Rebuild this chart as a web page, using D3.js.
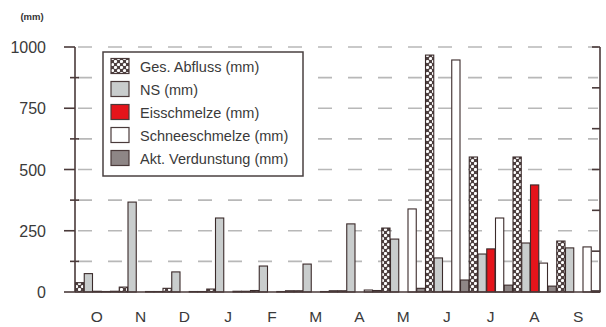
<!DOCTYPE html>
<html><head><meta charset="utf-8">
<script src="https://cdn.jsdelivr.net/npm/d3@7"></script>
<style>body{margin:0;background:#fff}svg{display:block;font-family:"Liberation Sans",Arial,sans-serif}</style>
</head><body><svg id="c" width="606" height="327"></svg>
<script>
const months = ["O","N","D","J","F","M","A","M","J","J","A","S"];
const seriesNames = ["Ges. Abfluss (mm)","NS (mm)","Eisschmelze (mm)","Schneeschmelze (mm)","Akt. Verdunstung (mm)"];
const abfluss = [38, 20, 15, 12, 6, 5, 5, 261, 967, 551, 551, 208];
const ns = [75, 367, 82, 302, 106, 114, 278, 216, 139, 155, 200, 180];
const eis = [3, 0, 0, 0, 0, 0, 0, 0, 3, 176, 437, 0];
const schnee = [2, 2, 2, 3, 2, 2, 8, 339, 947, 302, 118, 184];
const verdunstung = [3, 2, 2, 3, 5, 5, 6, 15, 49, 28, 24, 5];
const yTicks = [0, 250, 500, 750, 1000];
const yMinor = [125, 375, 625, 875];
const gridVals = [125, 250, 375, 500, 625, 750, 875, 1000];

const svg = d3.select("#c");
const x0 = 75, x1 = 600, yTop = 47, yBot = 292;
const axisCol = "#4a3a3a";
const fills = ["url(#chk)", "#c9cdcd", "#e5141b", "#ffffff", "#8e8686"];
const data = [abfluss, ns, eis, schnee, verdunstung];

const defs = svg.append("defs");
const pat = defs.append("pattern").attr("id","chk").attr("patternUnits","userSpaceOnUse")
  .attr("width",6).attr("height",6);
pat.append("rect").attr("width",6).attr("height",6).attr("fill","#4e4040");
pat.append("circle").attr("cx",1.5).attr("cy",1.5).attr("r",1.6).attr("fill","#fff");
pat.append("circle").attr("cx",4.5).attr("cy",4.5).attr("r",1.6).attr("fill","#fff");

const x = d3.scaleBand().domain(d3.range(months.length)).range([x0, x1]).padding(0);
const xs = d3.scaleBand().domain(d3.range(seriesNames.length)).range([0, x.bandwidth()]).padding(0);
const y = d3.scaleLinear().domain([0, 1000]).range([yBot, yTop]);

// grid
svg.append("g").selectAll("line").data(gridVals).join("line")
  .attr("x1", x0 + 3).attr("x2", x1 - 2).attr("y1", d => y(d)).attr("y2", d => y(d))
  .attr("stroke", "#b8b8b8").attr("stroke-width", 1.6).attr("stroke-dasharray", "14,16");

// bars
const g = svg.append("g");
data.forEach((vals, si) => {
  g.selectAll(null).data(vals).join("rect")
    .attr("x", (d, i) => x(i) + xs(si) + 0.5)
    .attr("width", xs.bandwidth() - 0.5)
    .attr("y", d => y(d))
    .attr("height", d => Math.max(0, yBot - y(d)))
    .attr("fill", fills[si])
    .attr("stroke", d => d > 0 ? "#3b2b2b" : "none").attr("stroke-width", 1.1);
});

// left axis
const la = svg.append("g").attr("stroke", axisCol).attr("stroke-width", 1.6);
la.append("line").attr("x1", x0).attr("x2", x0).attr("y1", yTop).attr("y2", yBot);
la.selectAll(".mj").data(yTicks).join("line").attr("x1", x0 - 11).attr("x2", x0)
  .attr("y1", d => y(d)).attr("y2", d => y(d));
la.selectAll(".mn").data(yMinor).join("line").attr("x1", x0 - 5).attr("x2", x0 + 4)
  .attr("y1", d => y(d)).attr("y2", d => y(d));
svg.append("g").selectAll("text").data(yTicks).join("text")
  .attr("x", 46).attr("y", d => y(d) + 6).attr("text-anchor", "end")
  .attr("font-size", 16).attr("fill", "#3a3a3a").text(d => d);

// right axis
const rTicks = d3.range(0, 7);
const ry = d3.scaleLinear().domain([0, 6]).range([yBot, yTop]);
const ra = svg.append("g").attr("stroke", axisCol).attr("stroke-width", 1.6);
ra.append("line").attr("x1", x1).attr("x2", x1).attr("y1", yTop).attr("y2", yBot);
ra.selectAll("line.t").data(rTicks).join("line").attr("x1", x1 - 8).attr("x2", x1)
  .attr("y1", d => ry(d)).attr("y2", d => ry(d));

// x axis
svg.append("line").attr("x1", x0).attr("x2", x1).attr("y1", yBot).attr("y2", yBot)
  .attr("stroke", axisCol).attr("stroke-width", 1.6);
svg.append("g").selectAll("text").data(months).join("text")
  .attr("x", (d, i) => x(i) + x.bandwidth() / 2).attr("y", 322).attr("text-anchor", "middle")
  .attr("font-size", 15.5).attr("fill", "#3a3a3a").text(d => d);

// unit label
svg.append("text").attr("x", 32).attr("y", 19.5).attr("text-anchor", "middle")
  .attr("font-size", 9.5).attr("font-weight", "bold").attr("fill", "#333").text("(mm)");

// legend
const lg = svg.append("g");
lg.append("rect").attr("x", 103).attr("y", 52).attr("width", 200).attr("height", 124)
  .attr("fill", "#fff").attr("stroke", "#4a4040").attr("stroke-width", 1.5);
const legY = d3.scalePoint().domain(d3.range(seriesNames.length)).range([66, 158]);
seriesNames.forEach((nm, i) => {
  lg.append("rect").attr("x", 111).attr("y", legY(i) - 7.5).attr("width", 18).attr("height", 15)
    .attr("fill", fills[i]).attr("stroke", "#4a3a3a").attr("stroke-width", 1.2);
  lg.append("text").attr("x", 140).attr("y", legY(i) + 5.5).attr("font-size", 14.5)
    .attr("fill", "#3a3a3a").text(nm);
});
</script></body></html>
